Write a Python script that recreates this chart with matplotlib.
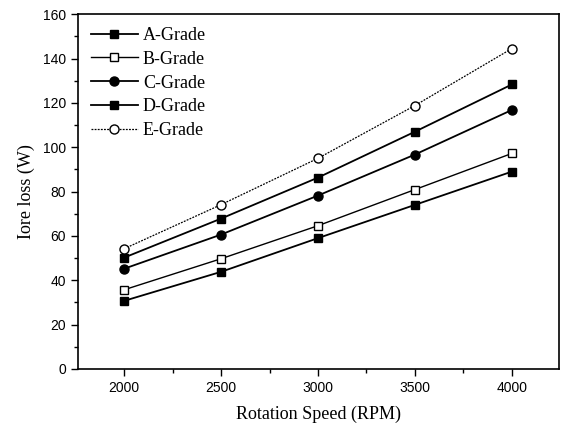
import matplotlib
matplotlib.use("Agg")
import matplotlib.pyplot as plt
from matplotlib.ticker import MultipleLocator

rpm = [2000, 2500, 3000, 3500, 4000]
a_grade = [30.7, 43.8, 59.0, 74.0, 89.0]
b_grade = [35.7, 49.7, 64.6, 80.9, 97.2]
c_grade = [45.2, 60.6, 78.2, 96.7, 116.8]
d_grade = [50.2, 67.8, 86.3, 107.0, 128.3]
e_grade = [54.2, 74.1, 95.0, 118.8, 144.5]
labels = ["A-Grade", "B-Grade", "C-Grade", "D-Grade", "E-Grade"]

fig = plt.figure(figsize=(5.65, 4.3), dpi=100)
ax = fig.add_axes([0.138, 0.142, 0.851, 0.825])

ax.plot(rpm, a_grade, color="black", lw=1.3, marker="s", ms=5.5, mfc="black", label=labels[0])
ax.plot(rpm, b_grade, color="black", lw=1.0, marker="s", ms=5.5, mfc="white", label=labels[1])
ax.plot(rpm, c_grade, color="black", lw=1.3, marker="o", ms=6.5, mfc="black", label=labels[2])
ax.plot(rpm, d_grade, color="black", lw=1.3, marker="s", ms=5.5, mfc="black", label=labels[3])
ax.plot(rpm, e_grade, color="black", lw=0.9, ls=(0, (1.5, 1)), marker="o", ms=6.5, mfc="white", label=labels[4])

ax.set_xlim(1762, 4242)
ax.set_ylim(0, 160)
ax.xaxis.set_major_locator(MultipleLocator(500))
ax.xaxis.set_minor_locator(MultipleLocator(250))
ax.yaxis.set_major_locator(MultipleLocator(20))
ax.yaxis.set_minor_locator(MultipleLocator(10))
ax.tick_params(direction="out", which="major", length=5, width=1, labelsize=10)
ax.tick_params(direction="out", which="minor", length=3, width=1)
for lab in ax.get_xticklabels() + ax.get_yticklabels():
    lab.set_fontfamily("Liberation Sans")
for s in ax.spines.values():
    s.set_linewidth(1.2)

ax.set_xlabel("Rotation Speed (RPM)", fontfamily="Liberation Serif", fontsize=13, labelpad=8)
ax.set_ylabel("Iore loss (W)", fontfamily="Liberation Serif", fontsize=13, labelpad=6)

ax.legend(loc="upper left", frameon=False, prop={"family": "Liberation Serif", "size": 13},
          handlelength=2.6, handletextpad=0.3, labelspacing=0.38, borderaxespad=0.3,
          bbox_to_anchor=(0.0, 1.0))

fig.savefig("out.png", dpi=100)
